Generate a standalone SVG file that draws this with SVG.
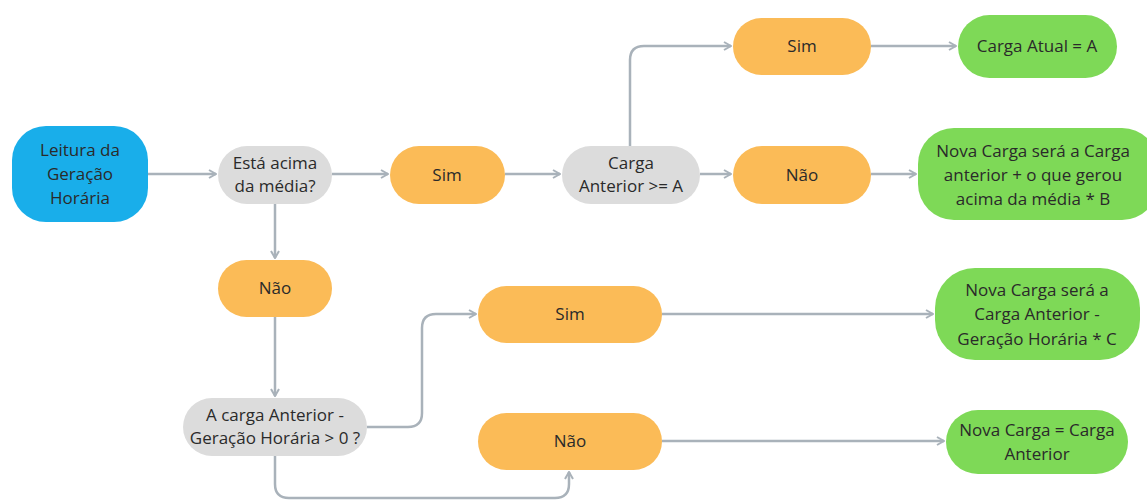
<svg xmlns="http://www.w3.org/2000/svg" width="1147" height="502" viewBox="0 0 1147 502">
<style>
text{font-family:"Open Sans","Noto Sans",sans-serif;font-size:17px;fill:#2a2a2a;text-anchor:middle}
.blue{fill:#19aeea}
.gray{fill:#dcdcdc}
.orange{fill:#fbbb57}
.green{fill:#7ed957}
.c{fill:none;stroke:#a9b2ba;stroke-width:2.5;marker-end:url(#ah)}
</style>
<defs>
<marker id="ah" viewBox="0 0 10 10" refX="9" refY="5" markerWidth="10" markerHeight="10" markerUnits="userSpaceOnUse" orient="auto">
<path d="M2,1 L9,5 L2,9" fill="none" stroke="#a9b2ba" stroke-width="2"/>
</marker>
</defs>
<g id="connectors">
<path class="c" d="M148,174 H216"/>
<path class="c" d="M332,174 H388"/>
<path class="c" d="M505,174 H560"/>
<path class="c" d="M700,174 H731"/>
<path class="c" d="M871,174 H916"/>
<path class="c" d="M630,146 V60 Q630,46 644,46 H731"/>
<path class="c" d="M871,46 H956"/>
<path class="c" d="M275,204 V258"/>
<path class="c" d="M275,317 V396"/>
<path class="c" d="M367,427 H408 Q422,427 422,413 V328 Q422,314 436,314 H476"/>
<path class="c" d="M662,314 H933"/>
<path class="c" d="M662,441 H944"/>
<path class="c" d="M275,456 V484 Q275,498 289,498 H555 Q569,498 569,484 V472"/>
</g>
<g id="n-leitura"><rect class="blue" x="12" y="126" width="136" height="96" rx="34"/><text x="80" y="156">Leitura da</text><text x="80" y="180">Geração</text><text x="80" y="204">Horária</text></g>
<g id="n-acima"><rect class="gray" x="218" y="146" width="114" height="58" rx="29"/><text x="275" y="169">Está acima</text><text x="275" y="192">da média?</text></g>
<g id="n-sim1"><rect class="orange" x="390" y="146" width="115" height="58" rx="29"/><text x="447" y="181">Sim</text></g>
<g id="n-cargaA"><rect class="gray" x="562" y="146" width="138" height="58" rx="29"/><text x="631" y="169">Carga</text><text x="631" y="192">Anterior &gt;= A</text></g>
<g id="n-nao1"><rect class="orange" x="733" y="146" width="138" height="58" rx="29"/><text x="802" y="181">Não</text></g>
<g id="n-sim2"><rect class="orange" x="733" y="18" width="138" height="57" rx="28.5"/><text x="802" y="52">Sim</text></g>
<g id="n-atual"><rect class="green" x="958" y="15" width="159" height="63" rx="31.5"/><text x="1037" y="52">Carga Atual = A</text></g>
<g id="n-novaB"><rect class="green" x="918" y="128" width="240" height="92" rx="36"/><text x="1033" y="157">Nova Carga será a Carga</text><text x="1033" y="181">anterior + o que gerou</text><text x="1033" y="205">acima da média * B</text></g>
<g id="n-nao2"><rect class="orange" x="218" y="260" width="114" height="57" rx="28.5"/><text x="275" y="294">Não</text></g>
<g id="n-cargaG"><rect class="gray" x="183" y="398" width="184" height="58" rx="29"/><text x="275" y="421">A carga Anterior -</text><text x="275" y="444">Geração Horária &gt; 0 ?</text></g>
<g id="n-sim3"><rect class="orange" x="478" y="286" width="184" height="57" rx="28.5"/><text x="570" y="320">Sim</text></g>
<g id="n-nao3"><rect class="orange" x="478" y="413" width="184" height="57" rx="28.5"/><text x="570" y="447">Não</text></g>
<g id="n-novaC"><rect class="green" x="935" y="268" width="205" height="92" rx="40"/><text x="1037" y="296">Nova Carga será a</text><text x="1037" y="320">Carga Anterior -</text><text x="1037" y="345">Geração Horária * C</text></g>
<g id="n-novaAnt"><rect class="green" x="946" y="410" width="182" height="64" rx="32"/><text x="1037" y="436">Nova Carga = Carga</text><text x="1037" y="460">Anterior</text></g>
</svg>
